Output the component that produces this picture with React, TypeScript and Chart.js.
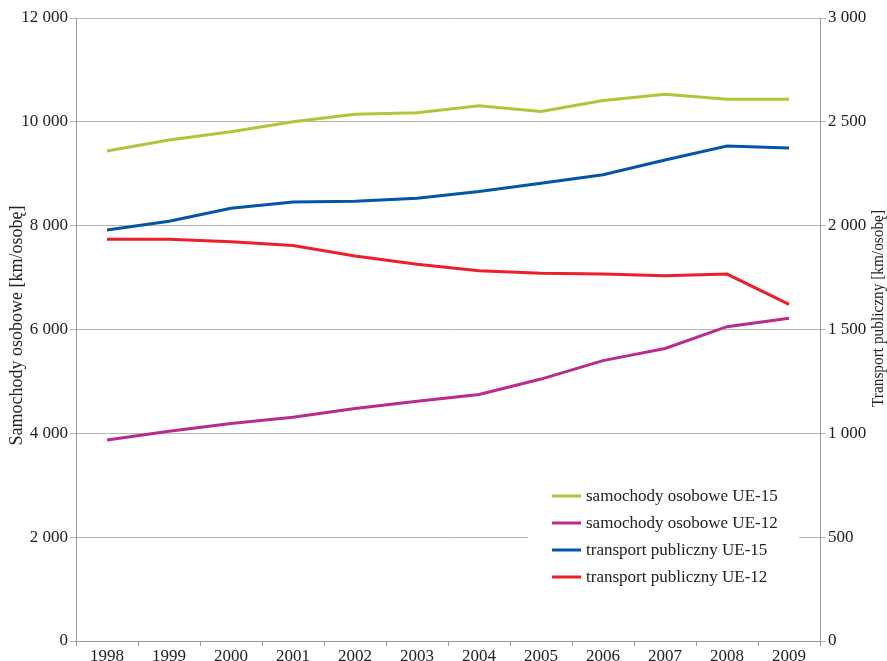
import React, { useEffect, useRef } from 'react';
import { Chart, registerables } from 'chart.js';

Chart.register(...registerables);

const years = ['1998', '1999', '2000', '2001', '2002', '2003', '2004', '2005', '2006', '2007', '2008', '2009'];
const carsEU15 = [9440, 9650, 9810, 10000, 10145, 10175, 10310, 10200, 10410, 10530, 10435, 10435];
const carsEU12 = [3870, 4040, 4190, 4310, 4480, 4620, 4750, 5045, 5400, 5635, 6055, 6215];
const publicEU15 = [1979, 2021, 2084, 2114, 2117, 2132, 2164, 2204, 2245, 2316, 2384, 2374];
const publicEU12 = [1934, 1934, 1923, 1904, 1854, 1814, 1783, 1771, 1767, 1759, 1767, 1621];

const seriesLabels = [
  'samochody osobowe UE-15',
  'samochody osobowe UE-12',
  'transport publiczny UE-15',
  'transport publiczny UE-12',
];
const seriesColors = ['#a9c93a', '#bb2a8e', '#0455a5', '#ec1f2a'];

const leftTitle = 'Samochody osobowe [km/osobę]';
const rightTitle = 'Transport publiczny [km/osobę]';

const FONT = '"Liberation Serif", "Times New Roman", serif';
const fmt = (v: number | string) => String(v).replace(/\B(?=(\d{3})+(?!\d))/g, ' ');

const legendPlugin = {
  id: 'insideLegend',
  afterDatasetsDraw(chart: any) {
    const { ctx, chartArea } = chart;
    const boxRight = chartArea.right - 21;
    const boxLeft = boxRight - 271;
    const firstRowY = chartArea.bottom - 145;
    ctx.save();
    ctx.fillStyle = '#ffffff';
    ctx.fillRect(boxLeft, firstRowY - 20, boxRight - boxLeft, 122);
    ctx.font = `17px ${FONT}`;
    ctx.textBaseline = 'middle';
    ctx.textAlign = 'left';
    chart.data.datasets.forEach((ds: any, i: number) => {
      const y = firstRowY + i * 27;
      ctx.strokeStyle = ds.borderColor;
      ctx.lineWidth = 3;
      ctx.beginPath();
      ctx.moveTo(boxLeft + 24, y);
      ctx.lineTo(boxLeft + 53, y);
      ctx.stroke();
      ctx.fillStyle = '#222';
      ctx.fillText(ds.label, boxLeft + 58, y + 1);
    });
    ctx.restore();
  },
};

const titlesPlugin = {
  id: 'axisTitles',
  afterDraw(chart: any) {
    const { ctx, chartArea } = chart;
    ctx.save();
    ctx.fillStyle = '#222';
    ctx.textAlign = 'center';
    ctx.textBaseline = 'middle';
    // left title
    ctx.save();
    ctx.translate(chartArea.left - 59, (chartArea.top + chartArea.bottom) / 2 - 4);
    ctx.rotate(-Math.PI / 2);
    ctx.font = `18px ${FONT}`;
    ctx.fillText(leftTitle, 0, 0);
    ctx.restore();
    // right title (reads bottom to top, condensed)
    ctx.save();
    ctx.translate(chartArea.right + 59, (chartArea.top + chartArea.bottom) / 2 - 21);
    ctx.rotate(-Math.PI / 2);
    ctx.font = `17px ${FONT}`;
    const w = ctx.measureText(rightTitle).width;
    ctx.scale(197 / w, 1);
    ctx.fillText(rightTitle, 0, 0);
    ctx.restore();
    ctx.restore();
  },
};

export default function App() {
  const ref = useRef<HTMLCanvasElement | null>(null);
  useEffect(() => {
    document.body.style.margin = '0';
    if (!ref.current) return;
    const chart = new Chart(ref.current, {
      type: 'line',
      data: {
        labels: years,
        datasets: [
          { label: seriesLabels[0], data: carsEU15, borderColor: seriesColors[0], yAxisID: 'y' },
          { label: seriesLabels[1], data: carsEU12, borderColor: seriesColors[1], yAxisID: 'y' },
          { label: seriesLabels[2], data: publicEU15, borderColor: seriesColors[2], yAxisID: 'y1' },
          { label: seriesLabels[3], data: publicEU12, borderColor: seriesColors[3], yAxisID: 'y1' },
        ].map((d) => ({ ...d, borderWidth: 3, pointRadius: 0, fill: false, tension: 0, backgroundColor: d.borderColor })),
      },
      options: {
        responsive: false,
        animation: false,
        layout: { padding: { top: 18, right: 0, left: 0, bottom: 0 } },
        plugins: { legend: { display: false }, tooltip: { enabled: false } },
        scales: {
          x: {
            offset: true,
            grid: { offset: true, drawOnChartArea: false, drawTicks: true, tickLength: 5, color: '#9a9a9a' },
            border: { color: '#9a9a9a' },
            ticks: { color: '#222', font: { family: FONT, size: 17 }, padding: 0, maxRotation: 0 },
            afterFit: (s: any) => { s.height = 20; },
          },
          y: {
            position: 'left',
            min: 0,
            max: 12000,
            ticks: { stepSize: 2000, color: '#222', font: { family: FONT, size: 17 }, padding: 2, callback: (v: any) => fmt(v) },
            grid: { color: '#b9b9b9', tickLength: 6, lineWidth: 1 },
            border: { color: '#9a9a9a' },
            afterFit: (s: any) => { s.width = 76; },
          },
          y1: {
            position: 'right',
            min: 0,
            max: 3000,
            ticks: { stepSize: 500, color: '#222', font: { family: FONT, size: 17 }, padding: 2, callback: (v: any) => fmt(v) },
            grid: { drawOnChartArea: false, color: '#b9b9b9', tickLength: 6 },
            border: { color: '#9a9a9a' },
            afterFit: (s: any) => { s.width = 67; },
          },
        },
      },
      plugins: [legendPlugin, titlesPlugin],
    } as any);
    return () => chart.destroy();
  }, []);
  return (
    <div style={{ width: 887, height: 661, background: '#fff' }}>
      <canvas ref={ref} width={887} height={661} />
    </div>
  );
}
